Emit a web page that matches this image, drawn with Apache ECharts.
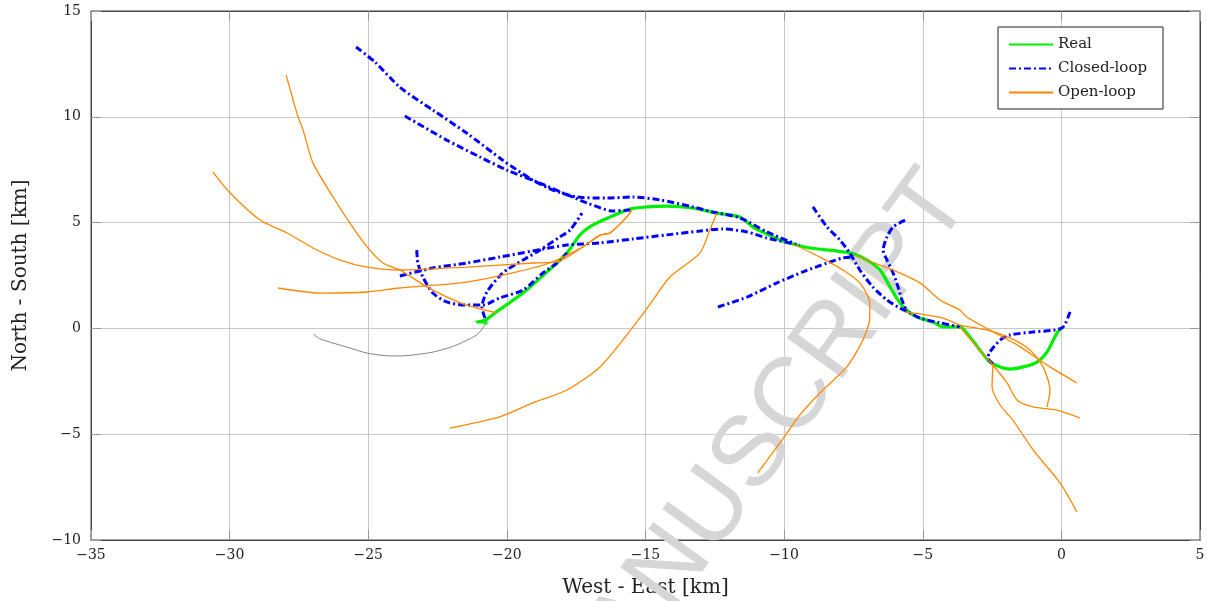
<!DOCTYPE html>
<html>
<head>
<meta charset="utf-8">
<script src="https://cdn.jsdelivr.net/npm/echarts@6/dist/echarts.min.js"></script>
<style>
  html, body { margin: 0; padding: 0; background: #fff; }
  #chart { width: 1207px; height: 601px; }
</style>
</head>
<body>
<div id="chart"></div>
<script>
// ticks
var xTicks = [-35, -30, -25, -20, -15, -10, -5, 0, 5];
var yTicks = [-10, -5, 0, 5, 10, 15];

// real trajectory
var real = [[-21.09,0.30],[-20.83,0.35],[-20.43,0.73],[-19.42,1.67],[-18.55,2.67],[-17.83,3.57],
  [-17.36,4.42],[-16.89,4.89],[-16.28,5.26],[-15.56,5.64],[-14.95,5.74],[-14.23,5.78],[-13.30,5.69],
  [-12.43,5.45],[-11.59,5.26],[-11.12,4.79],[-10.62,4.46],[-10.15,4.18],[-9.68,3.99],[-9.07,3.80],
  [-7.63,3.57],[-7.01,3.23],[-6.54,2.76],[-6.18,1.96],[-5.82,1.20],[-5.46,0.73],[-5.11,0.49],
  [-4.63,0.30],[-4.27,0.07],[-3.66,0.07],[-3.30,-0.41],[-2.94,-1.02],[-2.58,-1.59],[-2.21,-1.82],
  [-1.85,-1.92],[-1.38,-1.82],[-0.88,-1.59],[-0.52,-1.12],[-0.16,-0.22],[0,0]];
var realStart = [[-20.95, 0.33]];

// closed-loop runs
var closedA = [[-25.44,13.30],[-24.76,12.59],[-23.86,11.40],[-22.67,10.32],[-21.45,9.23],[-20.15,7.95],
  [-19.07,7.01],[-18.34,6.54],[-17.47,6.21],[-16.39,6.16],[-15.45,6.21],[-14.48,6.07],[-13.29,5.74],
  [-12.57,5.50],[-11.59,5.22],[-10.62,4.56],[-9.68,4.04]];
var closedB = [[-23.68,10.04],[-22.17,8.90],[-20.97,8.10],[-20.00,7.48],[-18.81,6.87],[-17.98,6.40],
  [-17.11,5.93],[-16.17,5.55],[-15.56,5.60]];
var closedC = [[-23.86,2.48],[-22.67,2.85],[-21.45,3.09],[-20.26,3.37],[-19.06,3.66],[-17.83,3.94],
  [-16.64,4.04],[-15.45,4.23],[-14.23,4.42],[-13.04,4.60],[-12.21,4.70],[-11.34,4.56],[-10.62,4.27],[-9.43,3.94]];
var closedD = [[-23.25,3.70],[-23.21,3.09],[-23.03,2.43],[-22.67,1.67],[-22.17,1.25],[-21.45,1.10],
  [-20.87,1.10],[-20.26,1.44],[-19.42,1.81],[-18.70,2.62],[-18.19,3.09],[-17.83,3.56]];
var closedE = [[-20.79,0.49],[-20.90,1.01],[-20.72,1.72],[-20.15,2.62],[-19.42,3.23],[-18.81,3.70],
  [-18.09,4.32],[-17.72,4.65],[-17.29,5.45]];
var closedF = [[-8.96,5.74],[-8.45,4.79],[-7.99,4.18],[-7.63,3.56],[-7.27,2.76],[-6.80,1.96],[-6.29,1.34],
  [-5.82,0.96],[-5.46,0.73],[-5.11,0.49],[-4.38,0.26],[-3.66,0.07]];
var closedG = [[0.31,0.78],[0.02,0.02],[-1.02,-0.17],[-1.85,-0.31],[-2.21,-0.55],[-2.58,-1.12],
  [-2.65,-1.40],[-2.47,-1.68]];
var closedH = [[-5.64,5.12],[-6.07,4.79],[-6.29,4.32],[-6.43,3.70],[-6.29,3.23],[-6.07,2.62],
  [-5.89,1.96],[-5.75,1.34],[-5.57,0.78]];
var closedI = [[-12.39,1.01],[-11.34,1.48],[-10.26,2.15],[-9.32,2.67],[-8.45,3.09],[-7.88,3.33],[-7.52,3.37]];

// open-loop runs
var open1 = [[-27.96,11.97],[-27.71,10.79],[-27.53,9.99],[-27.35,9.37],[-26.99,7.81],[-26.27,6.21],
  [-25.66,4.98],[-25.04,3.85],[-24.47,3.09],[-23.86,2.76],[-22.88,1.96],[-22.16,1.48],[-21.44,1.10],[-20.36,0.73]];
var open2 = [[-30.60,7.39],[-29.98,6.40],[-28.90,5.12],[-27.93,4.51],[-26.99,3.80],[-26.02,3.23],
  [-25.04,2.90],[-23.86,2.76],[-21.44,2.90],[-19.06,3.09],[-18.20,3.14],[-17.26,3.85],[-16.64,4.41],
  [-16.28,4.51],[-15.67,5.27],[-15.49,5.60]];
var open3 = [[-28.25,1.91],[-26.74,1.67],[-25.04,1.72],[-23.86,1.91],[-21.44,2.19],[-19.64,2.67],
  [-18.45,3.09],[-17.26,3.85],[-16.64,4.41],[-16.28,4.51],[-15.67,5.27],[-15.49,5.60]];
var open4 = [[-12.43,5.45],[-12.68,4.65],[-13.04,3.56],[-14.12,2.43],[-14.73,1.34],[-15.45,0.07],
  [-16.64,-1.82],[-17.83,-2.91],[-19.06,-3.52],[-20.26,-4.18],[-22.06,-4.71]];
var open5 = [[-9.68,3.99],[-8.71,3.37],[-7.88,2.76],[-7.27,2.15],[-6.91,1.20],[-6.91,0.54],[-7.16,-0.55],
  [-7.74,-1.82],[-8.71,-3.05],[-9.43,-4.09],[-10.15,-5.41],[-10.95,-6.83]];
var open6 = [[-7.45,3.47],[-7.02,3.23],[-6.08,2.76],[-5.10,2.15],[-4.38,1.34],[-3.66,0.87],[-3.41,0.54],
  [-2.58,-0.08],[-1.60,-0.78],[-0.41,-1.82],[0.56,-2.58]];
var open7 = [[-5.64,0.78],[-4.27,0.49],[-3.66,0.16],[-2.68,-0.08],[-1.85,-0.45],[-1.13,-1.02],
  [-0.66,-1.82],[-0.41,-2.91],[-0.52,-3.71]];
var open8 = [[-3.66,0.07],[-3.04,-0.88],[-2.47,-1.73],[-1.96,-2.58],[-1.60,-3.38],[-1.02,-3.71],
  [-0.16,-3.86],[0.67,-4.23]];
var open9 = [[-2.47,-1.73],[-2.50,-2.77],[-2.21,-3.62],[-1.75,-4.33],[-1.02,-5.74],[-0.05,-7.30],[0.56,-8.67]];

// grey track
var grey = [[-26.98,-0.27],[-26.73,-0.50],[-25.65,-0.93],[-25.04,-1.17],[-24.21,-1.30],[-23.86,-1.30],
  [-22.67,-1.12],[-21.81,-0.78],[-21.09,-0.31],[-20.87,0.02],[-20.72,0.30]];

var font = "'DejaVu Serif', 'Liberation Serif', serif";
function fmt(v) { return v < 0 ? '\u2212' + (-v) : '' + v; }

function mkLine(name, data, color, width, type, z) {
  return {
    name: name, type: 'line', data: data, symbol: 'none', smooth: 0.25, z: z,
    xAxisIndex: 0, yAxisIndex: 0,
    lineStyle: { color: color, width: width, type: type },
    itemStyle: { color: color },
    emphasis: { disabled: true }, silent: true, animation: false
  };
}

var dashDot = [7, 3, 2, 3];
var series = [];
series.push(mkLine('track', grey, '#808080', 1, 'solid', 2));
series.push(mkLine('Real', real, '#00ee00', 3.2, 'solid', 3));
series.push({
  name: 'start', type: 'scatter', data: realStart, symbol: 'triangle', symbolRotate: 90,
  symbolSize: [7, 14], itemStyle: { color: '#00ee00' }, z: 3, silent: true, animation: false
});
[closedA, closedB, closedC, closedD, closedE, closedF, closedG, closedH, closedI].forEach(function (d) {
  series.push(mkLine('Closed-loop', d, '#0000ff', 3, dashDot, 4));
});
[open1, open2, open3, open4, open5, open6, open7, open8, open9].forEach(function (d) {
  series.push(mkLine('Open-loop', d, '#ff8800', 1.3, 'solid', 5));
});

var chart = echarts.init(document.getElementById('chart'));
var tickStyle = { show: true, inside: true, length: 10, lineStyle: { color: '#999', width: 1 } };
chart.setOption({
  animation: false,
  grid: {
    left: 91, top: 11, width: 1109, height: 529, outerBoundsMode: 'none',
    show: true, borderColor: '#444', borderWidth: 1, backgroundColor: 'transparent'
  },
  legend: {
    data: ['Real', 'Closed-loop', 'Open-loop'],
    orient: 'vertical', left: 998, top: 27,
    backgroundColor: '#fff', borderColor: '#222', borderWidth: 1,
    padding: [10, 16, 9, 10], itemGap: 9, itemWidth: 44, itemHeight: 15, itemTextGap: 11,
    itemStyle: { opacity: 0 },
    textStyle: { fontFamily: font, fontSize: 15, color: '#222' },
    selectedMode: false
  },
  xAxis: [{
    type: 'value', min: -35, max: 5, interval: 5,
    name: 'West - East [km]', nameLocation: 'middle', nameGap: 38,
    nameTextStyle: { fontFamily: font, fontSize: 20, color: '#222' },
    axisLine: { show: true, onZero: false, lineStyle: { color: '#444' } },
    axisTick: tickStyle,
    axisLabel: { formatter: fmt, fontFamily: font, fontSize: 14, color: '#222', margin: 8 },
    splitLine: { show: true, lineStyle: { color: '#c8c8c8', width: 1 } }
  }, {
    type: 'value', min: -35, max: 5, interval: 5, position: 'top',
    axisLine: { show: true, onZero: false, lineStyle: { color: '#444' } },
    axisTick: tickStyle, axisLabel: { show: false }, splitLine: { show: false }
  }],
  yAxis: [{
    type: 'value', min: -10, max: 15, interval: 5,
    name: 'North - South [km]', nameLocation: 'middle', nameGap: 60, nameRotate: 90,
    nameTextStyle: { fontFamily: font, fontSize: 20, color: '#222' },
    axisLine: { show: true, onZero: false, lineStyle: { color: '#444' } },
    axisTick: tickStyle,
    axisLabel: { formatter: fmt, fontFamily: font, fontSize: 14, color: '#222', margin: 10 },
    splitLine: { show: true, lineStyle: { color: '#c8c8c8', width: 1 } }
  }, {
    type: 'value', min: -10, max: 15, interval: 5, position: 'right',
    axisLine: { show: true, onZero: false, lineStyle: { color: '#444' } },
    axisTick: tickStyle, axisLabel: { show: false }, splitLine: { show: false }
  }],
  graphic: [{
    type: 'text', x: 755, y: 452, rotation: 54 * Math.PI / 180, z: 1, silent: true,
    style: {
      text: 'MANUSCRIPT', fill: '#d6d6d6',
      font: "100px 'Liberation Sans', Arial, sans-serif",
      textAlign: 'center', textVerticalAlign: 'middle'
    }
  }],
  series: series
});
</script>
</body>
</html>
